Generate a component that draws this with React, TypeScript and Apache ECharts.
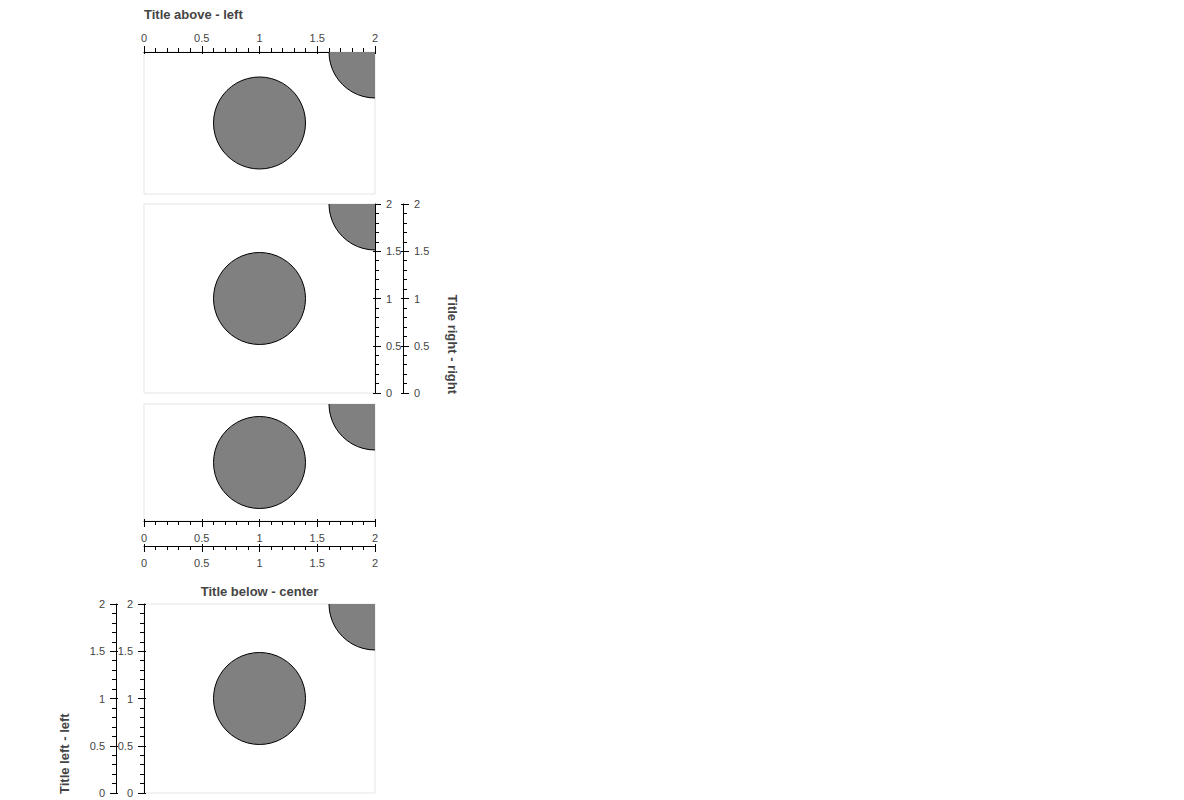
import React, { useEffect, useRef } from "react";
import * as echarts from "echarts";

// ---- data ----
const pointsX: number[] = [1, 2];
const pointsY: number[] = [1, 2];
const axisMin = 0;
const axisMax = 2;
const axisInterval = 0.5;
const titles: string[] = [
  "Title above - left",
  "Title right - right",
  "Title below - center",
  "Title left - left",
];

const FONT = "Liberation Sans, Arial, Helvetica, sans-serif";
const LABEL_COLOR = "#444444";
const MARKER_RADIUS = 46;

type Pos = "top" | "bottom" | "left" | "right";

function visibleAxis(gridIndex: number, position: Pos, offset: number) {
  return {
    type: "value",
    gridIndex,
    position,
    offset,
    min: axisMin,
    max: axisMax,
    interval: axisInterval,
    splitLine: { show: false },
    axisLine: { show: true, onZero: false, lineStyle: { color: "#000", width: 1 } },
    axisTick: { show: true, inside: false, length: 6, lineStyle: { color: "#000", width: 1 } },
    minorTick: { show: true, splitNumber: 5, length: 4, lineStyle: { color: "#000", width: 1 } },
    minorSplitLine: { show: false },
    axisLabel: {
      show: true,
      margin: position === "top" ? 9 : 11,
      color: LABEL_COLOR,
      fontSize: 11,
      fontFamily: FONT,
      showMinLabel: true,
      showMaxLabel: true,
      hideOverlap: false,
    },
  };
}

function innerTickAxis(gridIndex: number, position: Pos, offset: number) {
  return {
    type: "value",
    gridIndex,
    position,
    offset,
    min: axisMin,
    max: axisMax,
    interval: axisInterval,
    splitLine: { show: false },
    axisLine: { show: false, onZero: false },
    axisTick: { show: true, inside: true, length: 2, lineStyle: { color: "#000", width: 1 } },
    minorTick: { show: false },
    axisLabel: { show: false },
  };
}

function hiddenAxis(gridIndex: number) {
  return {
    type: "value",
    gridIndex,
    show: false,
    min: axisMin,
    max: axisMax,
    axisLine: { onZero: false },
    splitLine: { show: false },
  };
}

export default function App() {
  const ref = useRef<HTMLDivElement>(null);

  useEffect(() => {
    if (!ref.current) return;
    const chart = echarts.init(ref.current, undefined, { renderer: "svg" });

    const grids = [
      { left: 144, top: 52, width: 231, height: 142 },
      { left: 144, top: 204, width: 231, height: 189 },
      { left: 144, top: 404, width: 231, height: 117 },
      { left: 144, top: 604, width: 231, height: 189 },
    ].map((g) => ({
      ...g,
      show: true,
      borderColor: "#e5e5e5",
      borderWidth: 1,
      backgroundColor: "transparent",
      containLabel: false,
    }));

    const xAxes: any[] = [];
    const yAxes: any[] = [];
    const seriesAxes: { x: number; y: number }[] = [];

    // grid 0: one x axis above
    seriesAxes.push({ x: xAxes.length, y: yAxes.length });
    xAxes.push(visibleAxis(0, "top", 0));
    xAxes.push(innerTickAxis(0, "top", 0));
    yAxes.push(hiddenAxis(0));

    // grid 1: two y axes right
    seriesAxes.push({ x: xAxes.length, y: yAxes.length });
    xAxes.push(hiddenAxis(1));
    yAxes.push(visibleAxis(1, "right", 0));
    yAxes.push(visibleAxis(1, "right", 28));
    yAxes.push(innerTickAxis(1, "right", 0));
    yAxes.push(innerTickAxis(1, "right", 28));

    // grid 2: two x axes below
    seriesAxes.push({ x: xAxes.length, y: yAxes.length });
    xAxes.push(visibleAxis(2, "bottom", 0));
    xAxes.push(visibleAxis(2, "bottom", 25));
    xAxes.push(innerTickAxis(2, "bottom", 0));
    xAxes.push(innerTickAxis(2, "bottom", 25));
    yAxes.push(hiddenAxis(2));

    // grid 3: two y axes left
    seriesAxes.push({ x: xAxes.length, y: yAxes.length });
    xAxes.push(hiddenAxis(3));
    yAxes.push(visibleAxis(3, "left", 0));
    yAxes.push(visibleAxis(3, "left", 28));
    yAxes.push(innerTickAxis(3, "left", 0));
    yAxes.push(innerTickAxis(3, "left", 28));

    const data = pointsX.map((x, i) => [x, pointsY[i]]);

    const series = seriesAxes.map((a) => ({
      type: "custom",
      coordinateSystem: "cartesian2d",
      xAxisIndex: a.x,
      yAxisIndex: a.y,
      data,
      encode: { x: 0, y: 1 },
      clip: true,
      silent: true,
      renderItem: (params: any, api: any) => {
        const p = api.coord([api.value(0), api.value(1)]);
        const cs = params.coordSys;
        return {
          type: "group",
          clipPath: {
            type: "rect",
            shape: { x: cs.x, y: cs.y, width: cs.width, height: cs.height },
          },
          children: [
            {
              type: "circle",
              shape: { cx: p[0], cy: p[1], r: MARKER_RADIUS },
              style: { fill: "#808080", stroke: "#000000", lineWidth: 1 },
            },
          ],
        };
      },
    }));

    const titleStyle = {
      fill: LABEL_COLOR,
      font: `bold 13px ${FONT}`,
    };

    chart.setOption({
      animation: false,
      backgroundColor: "#ffffff",
      grid: grids,
      xAxis: xAxes,
      yAxis: yAxes,
      series,
      graphic: [
        {
          type: "text",
          x: 144,
          y: 14,
          style: { ...titleStyle, text: titles[0], textAlign: "left", textVerticalAlign: "middle" },
        },
        {
          type: "text",
          x: 452,
          y: 394,
          rotation: -Math.PI / 2,
          style: { ...titleStyle, text: titles[1], textAlign: "right", textVerticalAlign: "middle" },
        },
        {
          type: "text",
          x: 259.5,
          y: 591,
          style: { ...titleStyle, text: titles[2], textAlign: "center", textVerticalAlign: "middle" },
        },
        {
          type: "text",
          x: 64,
          y: 794,
          rotation: Math.PI / 2,
          style: { ...titleStyle, text: titles[3], textAlign: "left", textVerticalAlign: "middle" },
        },
      ],
    });

    return () => chart.dispose();
  }, []);

  return (
    <div
      ref={ref}
      style={{ position: "fixed", left: 0, top: 0, width: 1184, height: 800, background: "#fff" }}
    />
  );
}
